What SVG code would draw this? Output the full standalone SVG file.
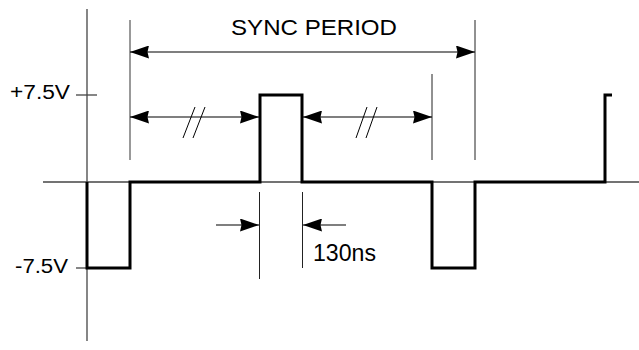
<svg xmlns="http://www.w3.org/2000/svg" width="639" height="350" viewBox="0 0 639 350">
<style>
.ax{stroke:#444;stroke-width:1.3;fill:none}
.ext{stroke:#222;stroke-width:1;fill:none}
.dim{stroke:#000;stroke-width:1.2;fill:none}
.wave{stroke:#000;stroke-width:3;fill:none;stroke-linejoin:miter}
.hash{stroke:#000;stroke-width:1;fill:none}
text{font-family:"Liberation Sans",Arial,sans-serif;fill:#000}
</style>
<defs>
<marker id="ah" viewBox="0 0 19 13" refX="19" refY="6.5" markerWidth="19" markerHeight="13" markerUnits="userSpaceOnUse" orient="auto-start-reverse">
<path d="M0,0 L19,6.5 L0,13 L1.5,6.5 Z" fill="#000"/>
</marker>
</defs>
<g id="axes">
<line class="ax" x1="87" y1="9" x2="87" y2="341"/>
<line class="ax" x1="43" y1="182" x2="639" y2="182" stroke="#666"/>
<line class="ax" x1="76" y1="95" x2="97" y2="95"/>
<line class="ax" x1="76" y1="268" x2="87" y2="268"/>
</g>
<g id="labels">
<text x="10" y="98.5" font-size="20" textLength="60" lengthAdjust="spacingAndGlyphs">+7.5V</text>
<text x="15" y="272.5" font-size="20" textLength="53" lengthAdjust="spacingAndGlyphs">-7.5V</text>
<text x="231" y="35" font-size="22.5" textLength="166" lengthAdjust="spacingAndGlyphs">SYNC PERIOD</text>
<text x="313" y="261" font-size="23" textLength="63" lengthAdjust="spacingAndGlyphs">130ns</text>
</g>
<g id="waveform">
<path class="wave" d="M87,182 V268 H130 V182 H260 V95 H302 V182 H432 V268 H475 V182 H605 V95 H612"/>
</g>
<g id="connectors">
<line x1="130" y1="20" x2="130" y2="160" stroke="#777" stroke-width="1.5"/>
<line class="ext" x1="475" y1="20" x2="475" y2="160"/>
<line class="ext" x1="432" y1="74" x2="432" y2="160"/>
<line class="ext" x1="259.5" y1="192" x2="259.5" y2="279"/>
<line class="ext" x1="302.5" y1="192" x2="302.5" y2="268"/>
<line class="dim" x1="130" y1="52" x2="475" y2="52" marker-start="url(#ah)" marker-end="url(#ah)"/>
<line class="dim" x1="130" y1="117" x2="259" y2="117" marker-start="url(#ah)" marker-end="url(#ah)"/>
<line class="dim" x1="303" y1="117" x2="432" y2="117" marker-start="url(#ah)" marker-end="url(#ah)"/>
<line class="dim" x1="216" y1="225" x2="259" y2="225" marker-end="url(#ah)"/>
<line class="dim" x1="346" y1="225" x2="303" y2="225" marker-end="url(#ah)"/>
<line class="hash" x1="183" y1="138" x2="195" y2="107"/>
<line class="hash" x1="193" y1="138" x2="205" y2="107"/>
<line class="hash" x1="356" y1="138" x2="367" y2="107"/>
<line class="hash" x1="366" y1="138" x2="377" y2="107"/>
</g>
</svg>
